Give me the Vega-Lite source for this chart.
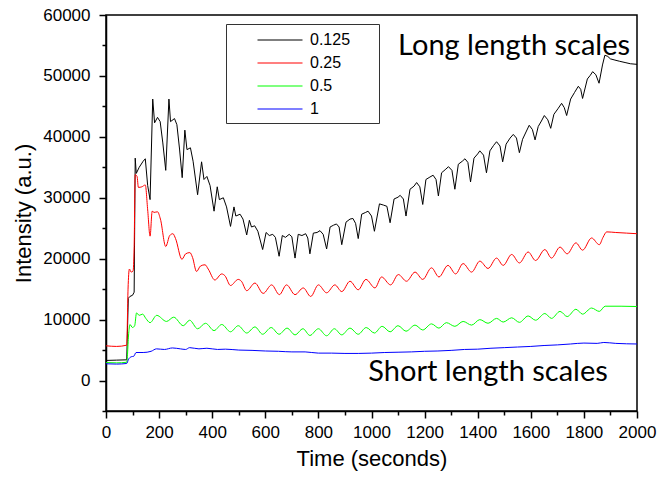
{
  "$schema": "https://vega.github.io/schema/vega-lite/v6.json",
  "width": 531,
  "height": 396,
  "padding": {"left": 12, "top": 6, "right": 10, "bottom": 5},
  "config": {
    "view": {"stroke": "#000000", "strokeWidth": 1.5},
    "axis": {"grid": false, "domainColor": "#000000", "domainWidth": 1.5, "tickColor": "#000000", "tickWidth": 1.5, "labelFont": "Liberation Sans", "labelFontSize": 17, "labelColor": "#000000", "titleFont": "Liberation Sans", "titleFontSize": 22, "titleFontWeight": "normal", "titleColor": "#000000", "labelOverlap": false, "labelFlush": false}
  },
  "data": {"values": [
    {"s":"0.125","t":0,"v":3300},{"s":"0.125","t":40,"v":3350},{"s":"0.125","t":78,"v":3400},{"s":"0.125","t":84,"v":13500},{"s":"0.125","t":90,"v":13800},{"s":"0.125","t":100,"v":14000},{"s":"0.125","t":106,"v":14500},{"s":"0.125","t":110,"v":36500},{"s":"0.125","t":114,"v":34000},{"s":"0.125","t":125,"v":35000},{"s":"0.125","t":140,"v":36000},{"s":"0.125","t":148,"v":36400},{"s":"0.125","t":157,"v":32000},{"s":"0.125","t":166,"v":29700},{"s":"0.125","t":176,"v":46200},{"s":"0.125","t":183,"v":42300},{"s":"0.125","t":194,"v":43200},{"s":"0.125","t":204,"v":42500},{"s":"0.125","t":214,"v":39000},{"s":"0.125","t":225,"v":34500},{"s":"0.125","t":237,"v":46200},{"s":"0.125","t":243,"v":42500},{"s":"0.125","t":258,"v":43000},{"s":"0.125","t":267,"v":42000},{"s":"0.125","t":277,"v":38000},{"s":"0.125","t":287,"v":33300},{"s":"0.125","t":297,"v":41100},{"s":"0.125","t":305,"v":37900},{"s":"0.125","t":318,"v":38200},{"s":"0.125","t":328,"v":36000},{"s":"0.125","t":345,"v":30500},{"s":"0.125","t":360,"v":35900},{"s":"0.125","t":369,"v":33000},{"s":"0.125","t":380,"v":33500},{"s":"0.125","t":392,"v":32000},{"s":"0.125","t":407,"v":27800},{"s":"0.125","t":419,"v":31800},{"s":"0.125","t":427,"v":29700},{"s":"0.125","t":442,"v":30000},{"s":"0.125","t":454,"v":28500},{"s":"0.125","t":469,"v":25300},{"s":"0.125","t":482,"v":28500},{"s":"0.125","t":489,"v":27000},{"s":"0.125","t":505,"v":27300},{"s":"0.125","t":516,"v":26500},{"s":"0.125","t":530,"v":23900},{"s":"0.125","t":540,"v":26300},{"s":"0.125","t":548,"v":25200},{"s":"0.125","t":560,"v":25400},{"s":"0.125","t":572,"v":24500},{"s":"0.125","t":590,"v":21500},{"s":"0.125","t":603,"v":24300},{"s":"0.125","t":615,"v":23800},{"s":"0.125","t":628,"v":24000},{"s":"0.125","t":638,"v":23500},{"s":"0.125","t":652,"v":20400},{"s":"0.125","t":664,"v":23800},{"s":"0.125","t":676,"v":23500},{"s":"0.125","t":690,"v":24000},{"s":"0.125","t":700,"v":23600},{"s":"0.125","t":712,"v":20100},{"s":"0.125","t":724,"v":24000},{"s":"0.125","t":738,"v":23800},{"s":"0.125","t":752,"v":24100},{"s":"0.125","t":760,"v":23400},{"s":"0.125","t":768,"v":20800},{"s":"0.125","t":781,"v":24200},{"s":"0.125","t":795,"v":24300},{"s":"0.125","t":806,"v":24600},{"s":"0.125","t":818,"v":24000},{"s":"0.125","t":831,"v":21600},{"s":"0.125","t":844,"v":25200},{"s":"0.125","t":857,"v":25500},{"s":"0.125","t":868,"v":25700},{"s":"0.125","t":878,"v":25200},{"s":"0.125","t":888,"v":22300},{"s":"0.125","t":904,"v":26000},{"s":"0.125","t":919,"v":26500},{"s":"0.125","t":930,"v":26600},{"s":"0.125","t":940,"v":25800},{"s":"0.125","t":950,"v":23300},{"s":"0.125","t":963,"v":27300},{"s":"0.125","t":978,"v":27600},{"s":"0.125","t":987,"v":27800},{"s":"0.125","t":1000,"v":27000},{"s":"0.125","t":1011,"v":24500},{"s":"0.125","t":1030,"v":29000},{"s":"0.125","t":1045,"v":28800},{"s":"0.125","t":1058,"v":28600},{"s":"0.125","t":1070,"v":25900},{"s":"0.125","t":1085,"v":29800},{"s":"0.125","t":1100,"v":30100},{"s":"0.125","t":1108,"v":30400},{"s":"0.125","t":1120,"v":29800},{"s":"0.125","t":1130,"v":27000},{"s":"0.125","t":1145,"v":31400},{"s":"0.125","t":1160,"v":31900},{"s":"0.125","t":1170,"v":32500},{"s":"0.125","t":1182,"v":31800},{"s":"0.125","t":1193,"v":28900},{"s":"0.125","t":1205,"v":33000},{"s":"0.125","t":1220,"v":33400},{"s":"0.125","t":1232,"v":33700},{"s":"0.125","t":1243,"v":33000},{"s":"0.125","t":1252,"v":30300},{"s":"0.125","t":1264,"v":34100},{"s":"0.125","t":1280,"v":34700},{"s":"0.125","t":1290,"v":35100},{"s":"0.125","t":1303,"v":34500},{"s":"0.125","t":1314,"v":31400},{"s":"0.125","t":1327,"v":35500},{"s":"0.125","t":1342,"v":36000},{"s":"0.125","t":1352,"v":36400},{"s":"0.125","t":1363,"v":35800},{"s":"0.125","t":1373,"v":32600},{"s":"0.125","t":1386,"v":36500},{"s":"0.125","t":1400,"v":37200},{"s":"0.125","t":1408,"v":37700},{"s":"0.125","t":1422,"v":37000},{"s":"0.125","t":1433,"v":34100},{"s":"0.125","t":1446,"v":37700},{"s":"0.125","t":1460,"v":38600},{"s":"0.125","t":1471,"v":39200},{"s":"0.125","t":1484,"v":38500},{"s":"0.125","t":1494,"v":35900},{"s":"0.125","t":1507,"v":38800},{"s":"0.125","t":1522,"v":39800},{"s":"0.125","t":1534,"v":40400},{"s":"0.125","t":1546,"v":39800},{"s":"0.125","t":1557,"v":37400},{"s":"0.125","t":1569,"v":39600},{"s":"0.125","t":1582,"v":40800},{"s":"0.125","t":1594,"v":41900},{"s":"0.125","t":1606,"v":41200},{"s":"0.125","t":1616,"v":39500},{"s":"0.125","t":1628,"v":41700},{"s":"0.125","t":1640,"v":42600},{"s":"0.125","t":1651,"v":43500},{"s":"0.125","t":1664,"v":42800},{"s":"0.125","t":1675,"v":41400},{"s":"0.125","t":1687,"v":43700},{"s":"0.125","t":1702,"v":44600},{"s":"0.125","t":1716,"v":45500},{"s":"0.125","t":1726,"v":44800},{"s":"0.125","t":1735,"v":43500},{"s":"0.125","t":1750,"v":46200},{"s":"0.125","t":1765,"v":47300},{"s":"0.125","t":1779,"v":48300},{"s":"0.125","t":1788,"v":47800},{"s":"0.125","t":1795,"v":46300},{"s":"0.125","t":1813,"v":49500},{"s":"0.125","t":1824,"v":50100},{"s":"0.125","t":1833,"v":50700},{"s":"0.125","t":1845,"v":50200},{"s":"0.125","t":1857,"v":48800},{"s":"0.125","t":1870,"v":51800},{"s":"0.125","t":1879,"v":53400},{"s":"0.125","t":1890,"v":53200},{"s":"0.125","t":1900,"v":52800},{"s":"0.125","t":1917,"v":52600},{"s":"0.125","t":1935,"v":52400},{"s":"0.125","t":1955,"v":52200},{"s":"0.125","t":1975,"v":52000},{"s":"0.125","t":2000,"v":51900},
    {"s":"0.25","t":0,"v":5700},{"s":"0.25","t":40,"v":5600},{"s":"0.25","t":78,"v":5800},{"s":"0.25","t":83,"v":15000},{"s":"0.25","t":88,"v":18300},{"s":"0.25","t":95,"v":17800},{"s":"0.25","t":102,"v":18000},{"s":"0.25","t":106,"v":22000},{"s":"0.25","t":110,"v":33800},{"s":"0.25","t":117,"v":33500},{"s":"0.25","t":122,"v":31700},{"s":"0.25","t":135,"v":31800},{"s":"0.25","t":148,"v":32100},{"s":"0.25","t":157,"v":28000},{"s":"0.25","t":166,"v":23700},{"s":"0.25","t":174,"v":27800},{"s":"0.25","t":181,"v":27600},{"s":"0.25","t":194,"v":27700},{"s":"0.25","t":205,"v":26500},{"s":"0.25","t":225,"v":22000},{"s":"0.25","t":240,"v":23800},{"s":"0.25","t":252,"v":24100},{"s":"0.25","t":262,"v":23300},{"s":"0.25","t":286,"v":19900},{"s":"0.25","t":300,"v":20800},{"s":"0.25","t":316,"v":21000},{"s":"0.25","t":326,"v":20200},{"s":"0.25","t":341,"v":17900},{"s":"0.25","t":356,"v":18800},{"s":"0.25","t":373,"v":19000},{"s":"0.25","t":385,"v":18300},{"s":"0.25","t":410,"v":16500},{"s":"0.25","t":436,"v":17500},{"s":"0.25","t":448,"v":17200},{"s":"0.25","t":469,"v":15600},{"s":"0.25","t":498,"v":16600},{"s":"0.25","t":510,"v":16300},{"s":"0.25","t":530,"v":14750},{"s":"0.25","t":561,"v":16000},{"s":"0.25","t":592,"v":14300},{"s":"0.25","t":624,"v":15700},{"s":"0.25","t":653,"v":14100},{"s":"0.25","t":680,"v":15700},{"s":"0.25","t":712,"v":14100},{"s":"0.25","t":743,"v":15200},{"s":"0.25","t":771,"v":13800},{"s":"0.25","t":800,"v":15700},{"s":"0.25","t":831,"v":14400},{"s":"0.25","t":862,"v":15700},{"s":"0.25","t":888,"v":14600},{"s":"0.25","t":919,"v":16300},{"s":"0.25","t":950,"v":14900},{"s":"0.25","t":979,"v":16600},{"s":"0.25","t":1013,"v":15200},{"s":"0.25","t":1038,"v":17000},{"s":"0.25","t":1072,"v":15700},{"s":"0.25","t":1101,"v":17400},{"s":"0.25","t":1132,"v":16300},{"s":"0.25","t":1164,"v":17800},{"s":"0.25","t":1193,"v":16600},{"s":"0.25","t":1226,"v":18500},{"s":"0.25","t":1254,"v":17000},{"s":"0.25","t":1288,"v":18900},{"s":"0.25","t":1317,"v":17500},{"s":"0.25","t":1345,"v":19200},{"s":"0.25","t":1377,"v":17800},{"s":"0.25","t":1408,"v":19600},{"s":"0.25","t":1439,"v":18400},{"s":"0.25","t":1471,"v":20100},{"s":"0.25","t":1496,"v":18900},{"s":"0.25","t":1528,"v":20700},{"s":"0.25","t":1557,"v":19300},{"s":"0.25","t":1590,"v":21100},{"s":"0.25","t":1618,"v":19700},{"s":"0.25","t":1653,"v":21500},{"s":"0.25","t":1678,"v":20100},{"s":"0.25","t":1710,"v":21900},{"s":"0.25","t":1737,"v":20800},{"s":"0.25","t":1770,"v":22600},{"s":"0.25","t":1795,"v":21400},{"s":"0.25","t":1829,"v":23400},{"s":"0.25","t":1858,"v":22300},{"s":"0.25","t":1872,"v":23500},{"s":"0.25","t":1886,"v":24400},{"s":"0.25","t":1920,"v":24300},{"s":"0.25","t":1960,"v":24200},{"s":"0.25","t":2000,"v":24100},
    {"s":"0.5","t":0,"v":2950},{"s":"0.5","t":40,"v":2900},{"s":"0.5","t":78,"v":3000},{"s":"0.5","t":86,"v":8000},{"s":"0.5","t":90,"v":9200},{"s":"0.5","t":100,"v":8700},{"s":"0.5","t":108,"v":9000},{"s":"0.5","t":115,"v":11100},{"s":"0.5","t":125,"v":10700},{"s":"0.5","t":138,"v":10900},{"s":"0.5","t":150,"v":10200},{"s":"0.5","t":166,"v":9500},{"s":"0.5","t":191,"v":10700},{"s":"0.5","t":228,"v":9700},{"s":"0.5","t":255,"v":10400},{"s":"0.5","t":291,"v":9000},{"s":"0.5","t":315,"v":9900},{"s":"0.5","t":345,"v":8500},{"s":"0.5","t":375,"v":9400},{"s":"0.5","t":407,"v":8200},{"s":"0.5","t":436,"v":9200},{"s":"0.5","t":469,"v":8000},{"s":"0.5","t":498,"v":9000},{"s":"0.5","t":530,"v":7800},{"s":"0.5","t":561,"v":8800},{"s":"0.5","t":590,"v":7600},{"s":"0.5","t":622,"v":8700},{"s":"0.5","t":652,"v":7600},{"s":"0.5","t":682,"v":8600},{"s":"0.5","t":712,"v":7500},{"s":"0.5","t":742,"v":8500},{"s":"0.5","t":768,"v":7400},{"s":"0.5","t":800,"v":8500},{"s":"0.5","t":831,"v":7350},{"s":"0.5","t":860,"v":8500},{"s":"0.5","t":888,"v":7500},{"s":"0.5","t":919,"v":8600},{"s":"0.5","t":950,"v":7600},{"s":"0.5","t":980,"v":8700},{"s":"0.5","t":1011,"v":7800},{"s":"0.5","t":1040,"v":8900},{"s":"0.5","t":1070,"v":8000},{"s":"0.5","t":1100,"v":9000},{"s":"0.5","t":1130,"v":8100},{"s":"0.5","t":1164,"v":9100},{"s":"0.5","t":1193,"v":8300},{"s":"0.5","t":1226,"v":9300},{"s":"0.5","t":1254,"v":8600},{"s":"0.5","t":1282,"v":9500},{"s":"0.5","t":1314,"v":8900},{"s":"0.5","t":1345,"v":9700},{"s":"0.5","t":1377,"v":9100},{"s":"0.5","t":1408,"v":10000},{"s":"0.5","t":1439,"v":9400},{"s":"0.5","t":1471,"v":10200},{"s":"0.5","t":1496,"v":9600},{"s":"0.5","t":1528,"v":10300},{"s":"0.5","t":1557,"v":9550},{"s":"0.5","t":1590,"v":10600},{"s":"0.5","t":1618,"v":9900},{"s":"0.5","t":1653,"v":11000},{"s":"0.5","t":1678,"v":10200},{"s":"0.5","t":1710,"v":11350},{"s":"0.5","t":1737,"v":10500},{"s":"0.5","t":1770,"v":11700},{"s":"0.5","t":1795,"v":10900},{"s":"0.5","t":1829,"v":11900},{"s":"0.5","t":1858,"v":11350},{"s":"0.5","t":1880,"v":12200},{"s":"0.5","t":1940,"v":12200},{"s":"0.5","t":2000,"v":12150},
    {"s":"1","t":0,"v":2750},{"s":"1","t":40,"v":2700},{"s":"1","t":78,"v":2800},{"s":"1","t":85,"v":3500},{"s":"1","t":95,"v":3900},{"s":"1","t":105,"v":4000},{"s":"1","t":113,"v":4600},{"s":"1","t":140,"v":4600},{"s":"1","t":170,"v":4800},{"s":"1","t":190,"v":5200},{"s":"1","t":220,"v":5100},{"s":"1","t":250,"v":5350},{"s":"1","t":280,"v":5200},{"s":"1","t":300,"v":5100},{"s":"1","t":315,"v":5400},{"s":"1","t":350,"v":5200},{"s":"1","t":380,"v":5300},{"s":"1","t":420,"v":5100},{"s":"1","t":450,"v":5150},{"s":"1","t":500,"v":5000},{"s":"1","t":550,"v":4950},{"s":"1","t":600,"v":4850},{"s":"1","t":650,"v":4800},{"s":"1","t":700,"v":4700},{"s":"1","t":750,"v":4700},{"s":"1","t":800,"v":4500},{"s":"1","t":850,"v":4500},{"s":"1","t":900,"v":4450},{"s":"1","t":950,"v":4450},{"s":"1","t":1000,"v":4500},{"s":"1","t":1050,"v":4600},{"s":"1","t":1100,"v":4650},{"s":"1","t":1150,"v":4700},{"s":"1","t":1200,"v":4800},{"s":"1","t":1250,"v":4850},{"s":"1","t":1300,"v":4950},{"s":"1","t":1350,"v":5100},{"s":"1","t":1400,"v":5150},{"s":"1","t":1450,"v":5300},{"s":"1","t":1500,"v":5400},{"s":"1","t":1550,"v":5500},{"s":"1","t":1600,"v":5600},{"s":"1","t":1650,"v":5750},{"s":"1","t":1700,"v":5850},{"s":"1","t":1750,"v":6000},{"s":"1","t":1800,"v":6150},{"s":"1","t":1850,"v":6100},{"s":"1","t":1875,"v":6250},{"s":"1","t":1920,"v":6100},{"s":"1","t":2000,"v":6000}
  ]},
  "encoding": {
    "x": {"field": "t", "type": "quantitative", "scale": {"domain": [0, 2000], "nice": false},
      "axis": {"title": "Time (seconds)", "format": "d", "values": [0,100,200,300,400,500,600,700,800,900,1000,1100,1200,1300,1400,1500,1600,1700,1800,1900,2000],
        "labelExpr": "datum.value % 200 === 0 ? datum.label : ''",
        "tickSize": {"condition": {"test": "datum.value % 200 === 0", "value": 7}, "value": 4},
        "labelPadding": 6, "titlePadding": 8}},
    "y": {"field": "v", "type": "quantitative", "scale": {"domain": [-5000, 60000], "nice": false, "zero": false},
      "axis": {"title": "Intensity (a.u.)", "values": [-5000,0,5000,10000,15000,20000,25000,30000,35000,40000,45000,50000,55000,60000],
        "labelExpr": "datum.value % 10000 === 0 ? datum.label : ''",
        "format": "d",
        "tickSize": {"condition": {"test": "datum.value % 10000 === 0", "value": 7}, "value": 4},
        "labelPadding": 9, "titlePadding": 7}}
  },
  "layer": [
    {
      "transform": [{"filter": "datum.s === '0.125'"}],
      "mark": {"type": "line", "strokeWidth": 1},
      "encoding": {
        "color": {"field": "s", "type": "nominal",
          "scale": {"domain": ["0.125", "0.25", "0.5", "1"], "range": ["#000000", "#ff0000", "#00ff00", "#0000ff"]},
          "legend": {"title": null, "orient": "none", "legendX": 120, "legendY": 9, "strokeColor": "#333333", "fillColor": "#ffffff", "padding": 6,
            "symbolType": "M-2.5,0H2.5", "symbolSize": 324, "symbolStrokeWidth": 1.2, "symbolOffset": 38, "labelOffset": 20,
            "labelFont": "Liberation Sans", "labelFontSize": 16, "labelColor": "#000000", "rowPadding": 5,
            "labelExpr": "datum.label + '\u00a0\u00a0\u00a0\u00a0\u00a0\u200b'"}}
      }
    },
    {
      "transform": [{"filter": "datum.s !== '0.125'"}],
      "mark": {"type": "line", "strokeWidth": 1, "interpolate": "monotone"},
      "encoding": {"color": {"field": "s", "type": "nominal"}}
    },
    {
      "data": {"values": [
        {"t": 1537, "v": 53400, "label": "Long length scales"},
        {"t": 1439, "v": -100, "label": "Short length scales"}
      ]},
      "mark": {"type": "text", "font": "Lato", "fontSize": 29, "align": "center", "baseline": "alphabetic", "color": "#000000"},
      "encoding": {"text": {"field": "label"}}
    }
  ]
}
